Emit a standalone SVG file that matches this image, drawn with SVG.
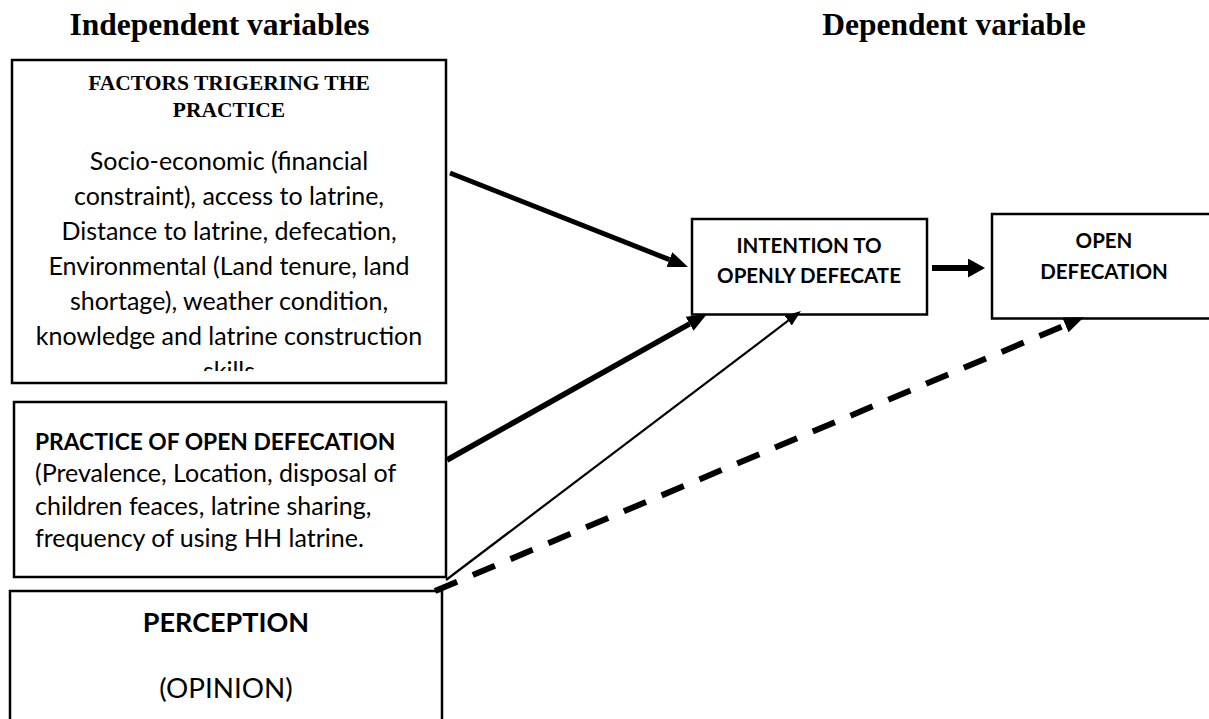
<svg xmlns="http://www.w3.org/2000/svg" width="1209" height="719" viewBox="0 0 1209 719">
<style>
.box{fill:#fff;stroke:#000;stroke-width:2.5}
.hd{font-family:"Liberation Serif","Times New Roman",serif;font-weight:bold;font-size:31.5px;fill:#000}
.sub{font-family:"Liberation Serif","Times New Roman",serif;font-weight:bold;font-size:21.5px;fill:#000}
.b{font-family:Lato,"Liberation Sans",sans-serif;font-size:25px;fill:#000}
.bb{font-family:Lato,"Liberation Sans",sans-serif;font-size:22.8px;font-weight:bold;fill:#000}
.nb{font-family:Lato,"Liberation Sans",sans-serif;font-size:20.5px;font-weight:bold;fill:#000}
.pb{font-family:Lato,"Liberation Sans",sans-serif;font-size:27px;font-weight:bold;fill:#000}
.pr{font-family:Lato,"Liberation Sans",sans-serif;font-size:27.8px;fill:#000}
.c{text-anchor:middle}
.ln{stroke:#000;fill:none}
</style>
<defs>
<clipPath id="clip1"><rect x="12" y="60" width="434" height="311"/></clipPath>
<marker id="ah" markerUnits="userSpaceOnUse" markerWidth="20" markerHeight="16" refX="0" refY="8" orient="auto" viewBox="0 0 20 16"><path d="M0,0 L20,8 L0,16 z" fill="#000"/></marker>
<marker id="ah2" markerUnits="userSpaceOnUse" markerWidth="17" markerHeight="19" refX="0" refY="9.5" orient="auto" viewBox="0 0 17 19"><path d="M0,0 L17,9.5 L0,19 z" fill="#000"/></marker>
<marker id="ahs" markerUnits="userSpaceOnUse" markerWidth="16" markerHeight="12" refX="0" refY="6" orient="auto" viewBox="0 0 16 12"><path d="M0,0 L16,6 L0,12 z" fill="#000"/></marker>
</defs>

<text class="hd c" x="219.5" y="35">Independent variables</text>
<text class="hd c" x="954" y="35">Dependent variable</text>

<g id="factors">
<rect class="box" x="12" y="60" width="434" height="323"/>
<text class="sub c" x="229" y="90">FACTORS TRIGERING THE</text>
<text class="sub c" x="229" y="117">PRACTICE</text>
<g clip-path="url(#clip1)">
<text class="b c" x="229" y="170">Socio-economic (financial</text>
<text class="b c" x="229" y="205">constraint), access to latrine,</text>
<text class="b c" x="229" y="240">Distance to latrine, defecation,</text>
<text class="b c" x="229" y="275">Environmental (Land tenure, land</text>
<text class="b c" x="229" y="310">shortage), weather condition,</text>
<text class="b c" x="229" y="345">knowledge and latrine construction</text>
<text class="b c" x="229" y="380">skills</text>
</g>
</g>

<g id="practice">
<rect class="box" x="14" y="402" width="432" height="175"/>
<text class="bb" x="35" y="450">PRACTICE OF OPEN DEFECATION</text>
<text class="b" x="35" y="482">(Prevalence, Location, disposal of</text>
<text class="b" x="35" y="515">children feaces, latrine sharing,</text>
<text class="b" x="35" y="547">frequency of using HH latrine.</text>
</g>

<g id="perception">
<rect class="box" x="10" y="591" width="432" height="140"/>
<text class="pb c" x="226" y="632">PERCEPTION</text>
<text class="pr c" x="226" y="698">(OPINION)</text>
</g>

<g id="intention">
<rect class="box" x="692" y="219" width="235" height="95.5"/>
<text class="nb c" x="809" y="252.7">INTENTION TO</text>
<text class="nb c" x="809" y="283.3">OPENLY DEFECATE</text>
</g>

<g id="openDefecation">
<rect class="box" x="992" y="214" width="240" height="104.5"/>
<text class="nb c" x="1104" y="248.3">OPEN</text>
<text class="nb c" x="1104" y="279.3">DEFECATION</text>
</g>

<g id="connectors">
<line class="ln" x1="450" y1="173" x2="669.4" y2="259.6" stroke-width="5" marker-end="url(#ah)"/>
<line class="ln" x1="932" y1="268" x2="968" y2="268" stroke-width="6" marker-end="url(#ah2)"/>
<line class="ln" x1="447" y1="460" x2="689.6" y2="323.8" stroke-width="5.5" marker-end="url(#ah)"/>
<line class="ln" x1="446" y1="580" x2="788.2" y2="320.7" stroke-width="2.2" marker-end="url(#ahs)"/>
<line class="ln" x1="435" y1="591" x2="1065.4" y2="325" stroke-width="6" stroke-dasharray="24 17" marker-end="url(#ah)"/>
</g>
</svg>
